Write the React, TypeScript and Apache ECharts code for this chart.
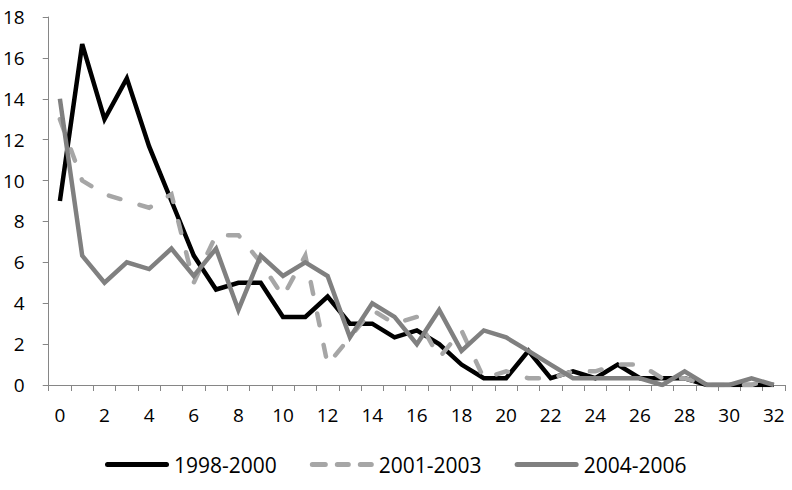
import React, { useEffect, useRef } from "react";
import * as echarts from "echarts";

// Category labels along the horizontal axis
const categories = [
  "0", "1", "2", "3", "4", "5", "6", "7", "8", "9", "10",
  "11", "12", "13", "14", "15", "16", "17", "18", "19", "20",
  "21", "22", "23", "24", "25", "26", "27", "28", "29", "30",
  "31", "32",
];

const seriesNames = ["1998-2000", "2001-2003", "2004-2006"];

const values1998 = [
  9, 16.67, 13, 15, 11.67, 9, 6.33, 4.67, 5, 5, 3.33, 3.33, 4.33, 3, 3, 2.33,
  2.67, 2, 1, 0.33, 0.33, 1.67, 0.33, 0.67, 0.33, 1, 0.33, 0.33, 0.33, 0, 0, 0, 0,
];

const values2001 = [
  13, 10, 9.33, 9, 8.67, 9.33, 5, 7.33, 7.33, 6, 4.33, 6.33, 1, 2.33, 3.67, 3,
  3.33, 1.33, 2.67, 0.33, 0.67, 0.33, 0.33, 0.67, 0.67, 1, 1, 0.33, 0.33, 0, 0, 0, 0.33,
];

const values2004 = [
  14, 6.33, 5, 6, 5.67, 6.67, 5.33, 6.67, 3.67, 6.33, 5.33, 6, 5.33, 2.33, 4, 3.33,
  2, 3.67, 1.67, 2.67, 2.33, 1.67, 1, 0.33, 0.33, 0.33, 0.33, 0, 0.67, 0, 0, 0.33, 0,
];

const FONT = "'Open Sans', 'Liberation Sans', sans-serif";
const AXIS_COLOR = "#868686";

// Legend keys: a rounded bar for solid series, three rounded dashes for the dashed one
const SOLID_KEY =
  "path://M2.5,0H61.5A2.5,2.5 0 0 1 61.5,5H2.5A2.5,2.5 0 0 1 2.5,0Z";
const DASHED_KEY =
  "path://M2.5,0H15.5A2.5,2.5 0 0 1 15.5,5H2.5A2.5,2.5 0 0 1 2.5,0Z" +
  "M27.5,0H38.5A2.5,2.5 0 0 1 38.5,5H27.5A2.5,2.5 0 0 1 27.5,0Z" +
  "M50.5,0H61.5A2.5,2.5 0 0 1 61.5,5H50.5A2.5,2.5 0 0 1 50.5,0Z";

export default function App() {
  const ref = useRef<HTMLDivElement>(null);

  useEffect(() => {
    if (!ref.current) return;
    const chart = echarts.init(ref.current, null, { renderer: "svg" });

    const lineSeries = (
      name: string,
      data: number[],
      color: string,
      dashed: boolean
    ) => ({
      name,
      type: "line",
      data,
      symbol: "none",
      smooth: false,
      lineStyle: {
        color,
        width: 4.5,
        type: dashed ? [12, 20] : "solid",
        cap: dashed ? "round" : "butt",
        join: "miter",
      },
      itemStyle: { color },
    });

    chart.setOption({
      animation: false,
      backgroundColor: "#ffffff",
      textStyle: { fontFamily: FONT, color: "#000" },
      grid: { left: 44, right: 7, top: 17, bottom: 105 },
      legend: {
        bottom: 10,
        left: 100,
        itemWidth: 64,
        itemHeight: 5,
        itemGap: 33,
        textStyle: { fontFamily: FONT, fontSize: 21, color: "#000" },
        data: [
          { name: seriesNames[0], icon: SOLID_KEY },
          { name: seriesNames[1], icon: DASHED_KEY },
          { name: seriesNames[2], icon: SOLID_KEY },
        ],
      },
      xAxis: {
        type: "category",
        data: categories,
        boundaryGap: true,
        axisLine: { lineStyle: { color: AXIS_COLOR, width: 1 } },
        axisTick: {
          show: true,
          interval: 0,
          length: 6,
          lineStyle: { color: AXIS_COLOR },
        },
        axisLabel: {
          interval: 1,
          margin: 20,
          fontFamily: FONT,
          fontSize: 19,
          color: "#000",
        },
        splitLine: { show: false },
      },
      yAxis: {
        type: "value",
        min: 0,
        max: 18,
        interval: 2,
        axisLine: { show: true, lineStyle: { color: AXIS_COLOR, width: 1 } },
        axisTick: { show: true, length: 6, lineStyle: { color: AXIS_COLOR } },
        axisLabel: {
          margin: 24,
          fontFamily: FONT,
          fontSize: 19,
          color: "#000",
        },
        splitLine: { show: false },
      },
      series: [
        lineSeries(seriesNames[0], values1998, "#000000", false),
        lineSeries(seriesNames[1], values2001, "#A6A6A6", true),
        lineSeries(seriesNames[2], values2004, "#808080", false),
      ],
    });

    return () => chart.dispose();
  }, []);

  return (
    <div
      ref={ref}
      style={{ position: "fixed", left: 0, top: 0, width: 792, height: 490 }}
    />
  );
}
